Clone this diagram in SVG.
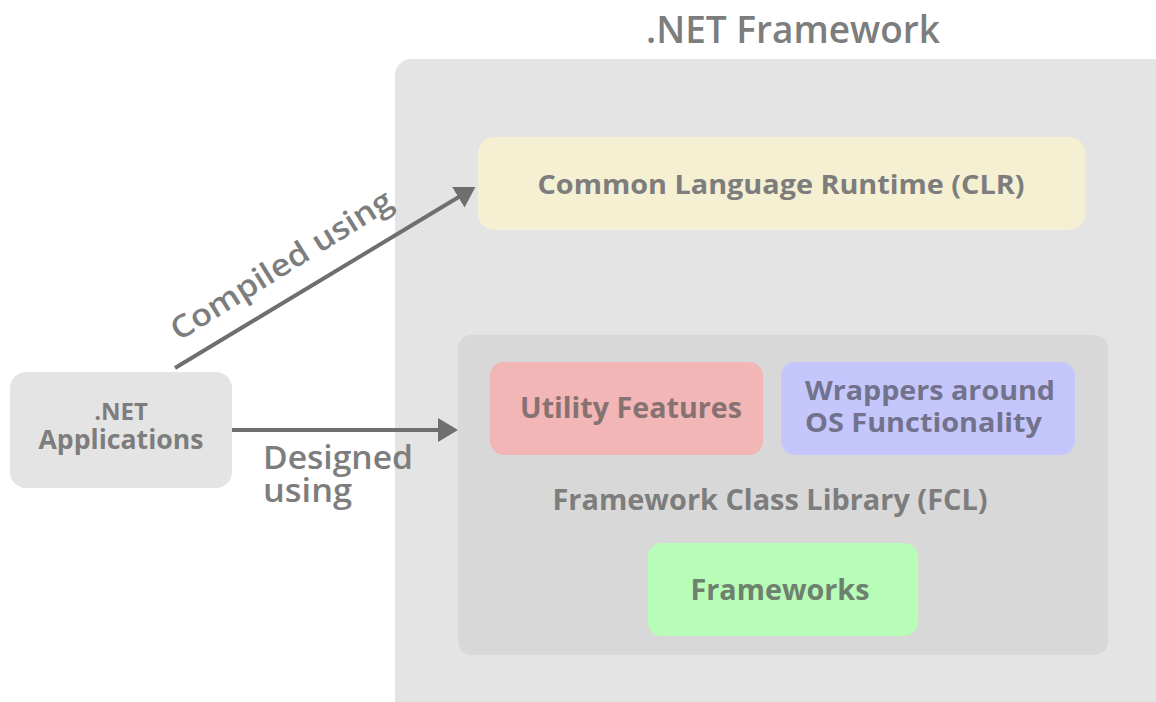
<svg xmlns="http://www.w3.org/2000/svg" width="1156" height="702" viewBox="0 0 1156 702">
<defs>
<style>
text{font-family:"Open Sans","Liberation Sans",sans-serif;font-weight:700;fill:#7d7d7d;text-anchor:middle}
.box{stroke:none}
.conn{stroke:#6f6f6f;stroke-width:4;fill:none}
</style>
<marker id="ah" markerWidth="6" markerHeight="6" refX="4" refY="3" orient="auto" markerUnits="strokeWidth">
<path d="M0,0 L5,3 L0,6 Z" fill="#6f6f6f"/>
</marker>
</defs>
<rect width="1156" height="702" fill="#ffffff"/>
<g id="net-framework">
<rect class="box" x="395" y="59" width="775" height="660" rx="16" fill="#e4e4e4"/>
<text x="793" y="43" font-size="37" style="font-weight:600">.NET Framework</text>
</g>
<g id="clr">
<rect class="box" x="478" y="137" width="607" height="93" rx="16" fill="#f5f0d2"/>
<text x="781" y="194" font-size="27" textLength="487" lengthAdjust="spacingAndGlyphs">Common Language Runtime (CLR)</text>
</g>
<g id="fcl">
<rect class="box" x="458" y="335" width="650" height="320" rx="14" fill="#d8d8d8"/>
<text x="770" y="510" font-size="28" textLength="435" lengthAdjust="spacingAndGlyphs">Framework Class Library (FCL)</text>
</g>
<g id="utility">
<rect class="box" x="490" y="362" width="273" height="93" rx="14" fill="#f2b6b6"/>
<text x="631" y="418" font-size="28" textLength="222" lengthAdjust="spacingAndGlyphs" style="fill:#877272">Utility Features</text>
</g>
<g id="wrappers">
<rect class="box" x="781" y="362" width="294" height="93" rx="14" fill="#c5c6fc"/>
<text x="805" y="400" font-size="27" textLength="250" lengthAdjust="spacingAndGlyphs" style="fill:#72728c;text-anchor:start">Wrappers around</text>
<text x="805" y="432" font-size="27" textLength="237" lengthAdjust="spacingAndGlyphs" style="fill:#72728c;text-anchor:start">OS Functionality</text>
</g>
<g id="frameworks">
<rect class="box" x="648" y="543" width="270" height="93" rx="14" fill="#b7fcb7"/>
<text x="780" y="600" font-size="28" textLength="179" lengthAdjust="spacingAndGlyphs" style="fill:#6e806e">Frameworks</text>
</g>
<g id="apps">
<rect class="box" x="10" y="372" width="222" height="116" rx="16" fill="#e4e4e4"/>
<text x="121" y="420" font-size="24">.NET</text>
<text x="121" y="449" font-size="26" textLength="165" lengthAdjust="spacingAndGlyphs">Applications</text>
</g>
<g id="connectors">
<line class="conn" x1="175" y1="368" x2="472" y2="189" marker-end="url(#ah)"/>
<line class="conn" x1="232" y1="430" x2="454" y2="430" marker-end="url(#ah)"/>
<text x="287" y="274" font-size="31" textLength="255" lengthAdjust="spacingAndGlyphs" style="font-weight:600" transform="rotate(-32 287 274)">Compiled using</text>
<text x="263" y="469" font-size="32" textLength="150" lengthAdjust="spacingAndGlyphs" style="text-anchor:start;font-weight:600">Designed</text>
<text x="263" y="502" font-size="32" textLength="89" lengthAdjust="spacingAndGlyphs" style="text-anchor:start;font-weight:600">using</text>
</g>
</svg>
